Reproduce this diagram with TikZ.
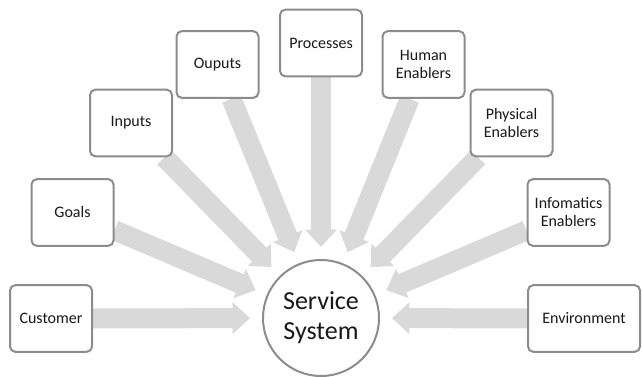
\documentclass[tikz,border=0pt]{standalone}
\usepackage{fontspec}
\setmainfont{Carlito}
\usetikzlibrary{arrows.meta,backgrounds}
\definecolor{arrowgray}{HTML}{D9D9D9}
\definecolor{boxgray}{HTML}{8C8C8C}
\begin{document}
\begin{tikzpicture}[x=0.75pt,y=-0.75pt,
  box/.style={draw=boxgray, line width=1.5pt, rounded corners=4pt, fill=white,
    minimum width=61.5pt, minimum height=50pt, align=center, inner sep=2pt,
    font=\fontsize{12}{13.5}\selectfont, text=black!90},
  hub/.style={circle, draw=boxgray, line width=1.5pt, fill=white, minimum size=87pt,
    align=center, inner sep=0pt, font=\fontsize{19.5}{22.5}\selectfont, text=black!90},
  flow/.style={draw=arrowgray, line width=15pt,
    -{Triangle[width=23pt,length=13pt]}, shorten >=9pt}
]
\useasboundingbox (0,0) rectangle (642,377);
\node[hub] (ss) at (321,318) {Service\\System};
\node[box] (cust) at (51,318.5) {Customer};
\node[box] (goals) at (72.5,212.5) {Goals};
\node[box] (inp) at (131,123) {Inputs};
\node[box] (outp) at (217.5,64.5) {Ouputs};
\node[box] (proc) at (321,43) {Processes};
\node[box] (human) at (423.5,64.5) {Human\\Enablers};
\node[box] (phys) at (511.5,123) {Physical\\Enablers};
\node[box] (info) at (568.5,212.5) {Infomatics\\Enablers};
\node[box, minimum width=84pt] (env) at (584,318.5) {Environment};
\begin{scope}[on background layer]
\foreach \n in {cust,goals,inp,outp,proc,human,phys,info,env}
  \draw[flow] (\n) -- (ss);
\end{scope}
\end{tikzpicture}
\end{document}
